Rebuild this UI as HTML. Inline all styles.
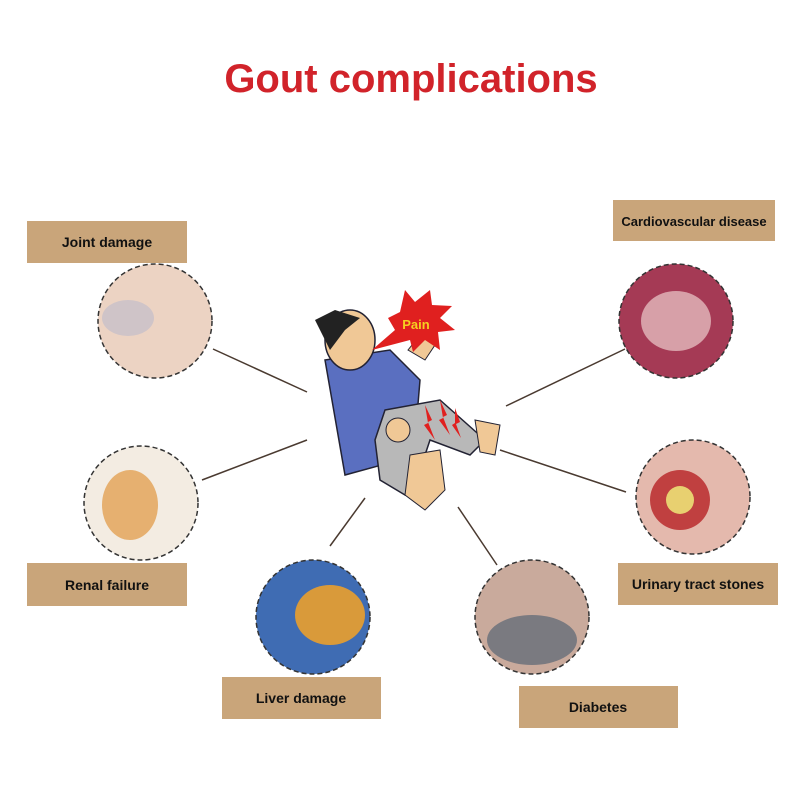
<!DOCTYPE html>
<html><head><meta charset="utf-8"><style>
body{margin:0;background:#fff}
</style></head><body>
<svg width="800" height="800" viewBox="0 0 800 800" xmlns="http://www.w3.org/2000/svg">
<rect width="800" height="800" fill="#fff"/>
<text x="411" y="92" text-anchor="middle" font-family="Liberation Sans, sans-serif" font-weight="bold" font-size="40" fill="#d1232a">Gout complications</text>
<g stroke="#4a3a30" stroke-width="1.5">
<line x1="213" y1="349" x2="307" y2="392"/>
<line x1="506" y1="406" x2="625" y2="349"/>
<line x1="202" y1="480" x2="307" y2="440"/>
<line x1="500" y1="450" x2="626" y2="492"/>
<line x1="330" y1="546" x2="365" y2="498"/>
<line x1="458" y1="507" x2="497" y2="565"/>
</g>
<g stroke="#333" stroke-width="1.5" stroke-dasharray="5,3">
<circle cx="155" cy="321" r="57" fill="#ecd3c3"/>
<circle cx="676" cy="321" r="57" fill="#a53a55"/>
<circle cx="141" cy="503" r="57" fill="#f3ece2"/>
<circle cx="693" cy="497" r="57" fill="#e4b9ad"/>
<circle cx="313" cy="617" r="57" fill="#3f6cb3"/>
<circle cx="532" cy="617" r="57" fill="#c9aa9c"/>
</g>
<ellipse cx="128" cy="318" rx="26" ry="18" fill="#cfc4c8"/>
<ellipse cx="676" cy="321" rx="35" ry="30" fill="#d7a0a8"/>
<ellipse cx="330" cy="615" rx="35" ry="30" fill="#d99a3a"/>
<ellipse cx="130" cy="505" rx="28" ry="35" fill="#e6b070"/>
<circle cx="680" cy="500" r="30" fill="#c04040"/>
<circle cx="680" cy="500" r="14" fill="#e8d070"/>
<ellipse cx="532" cy="640" rx="45" ry="25" fill="#7a7a80"/>
<!-- figure -->
<path d="M325 360 L390 350 L420 380 L415 440 L400 460 L345 475 Z" fill="#5a6fc0" stroke="#223" stroke-width="1.5"/>
<path d="M385 410 L440 400 L485 440 L470 455 L430 440 L420 470 L405 495 L380 480 L375 440 Z" fill="#b8b8b8" stroke="#223" stroke-width="1.5"/>
<path d="M475 420 L500 425 L495 455 L480 452 Z" fill="#f0c896" stroke="#223"/>
<path d="M410 455 L440 450 L445 490 L425 510 L405 495 Z" fill="#f0c896" stroke="#223"/>
<circle cx="398" cy="430" r="12" fill="#f0c896" stroke="#223"/>
<ellipse cx="350" cy="340" rx="25" ry="30" fill="#f0c896" stroke="#223" stroke-width="1.5"/>
<path d="M315 320 L335 310 L360 318 L345 330 L330 350 Z" fill="#222"/>
<path d="M408 350 L420 335 L435 345 L425 360 Z" fill="#f0c896" stroke="#223"/>
<polygon points="405,290 415,302 430,290 432,305 452,306 440,318 455,330 438,332 440,350 425,340 413,352 410,340 372,350 395,330 388,318 400,312" fill="#e0201f"/>
<text x="416" y="329" font-family="Liberation Sans, sans-serif" font-weight="bold" font-size="13" fill="#f5d020" text-anchor="middle">Pain</text>
<g fill="#e0201f"><polygon points="425,405 432,420 428,422 435,440 424,425 428,423"/><polygon points="440,400 447,415 443,417 450,435 439,420 443,418"/><polygon points="455,408 460,422 456,424 461,438 452,425 455,423"/></g>
<!-- labels -->
<g fill="#c9a57a">
<rect x="27" y="221" width="160" height="42"/>
<rect x="613" y="200" width="162" height="41"/>
<rect x="27" y="563" width="160" height="43"/>
<rect x="618" y="563" width="160" height="42"/>
<rect x="222" y="677" width="159" height="42"/>
<rect x="519" y="686" width="159" height="42"/>
</g>
<g font-family="Liberation Sans, sans-serif" font-weight="bold" font-size="14" fill="#111" text-anchor="middle">
<text x="107" y="247">Joint damage</text>
<text x="694" y="226" font-size="13">Cardiovascular disease</text>
<text x="107" y="590">Renal failure</text>
<text x="698" y="589">Urinary tract stones</text>
<text x="301" y="703">Liver damage</text>
<text x="598" y="712">Diabetes</text>
</g>
</svg>
</body></html>
